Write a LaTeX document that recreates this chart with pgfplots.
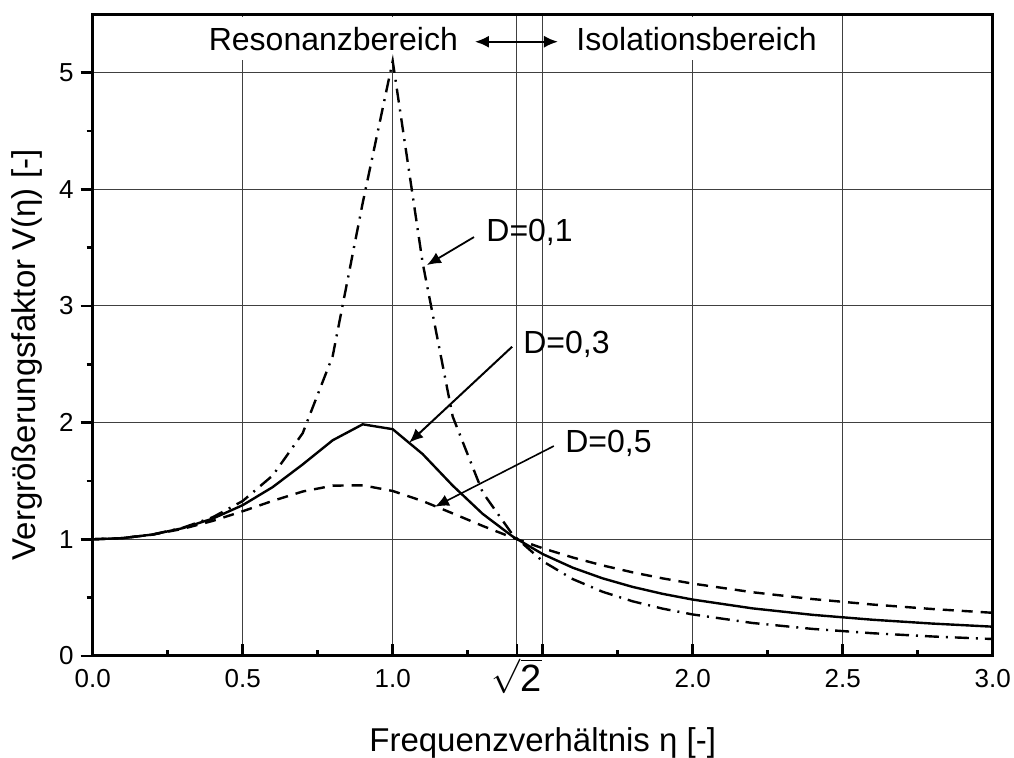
\documentclass[border=0pt]{standalone}
\usepackage{pgfplots}
\pgfplotsset{compat=1.18}
\usepackage{fontspec}
\setmainfont{Liberation Sans}
\usetikzlibrary{arrows.meta}

\begin{document}
\begin{tikzpicture}
\path[use as bounding box] (-46.35pt,-51pt) rectangle (460.65pt,328pt);
\begin{axis}[
  at={(0,0)}, anchor=south west,
  scale only axis, width=450pt, height=320.9pt,
  xmin=0, xmax=3, ymin=0, ymax=5.5,
  axis line style={line width=1.5pt},
  xtick={0,0.5,1,1.41421,1.5,2,2.5,3},
  xticklabels={0.0,0.5,1.0,{\raisebox{-1.6pt}[9.3pt][0pt]{\fontsize{19}{20}\selectfont$\sqrt{\mbox{2}}$}},,2.0,2.5,3.0},
  minor xtick={0.25,0.75,1.25,1.75,2.25,2.75},
  ytick={0,1,2,3,4,5},
  yticklabels={0,1,2,3,4,5},
  minor ytick={0.5,1.5,2.5,3.5,4.5},
  xtick pos=bottom, ytick pos=left,
  xtick align=inside, ytick align=outside,
  major tick length=6pt, minor tick length=3pt,
  tick style={line width=1.3pt, black},
  grid=major,
  major grid style={line width=0.5pt, black!75},
  tick label style={font=\fontsize{13}{15}\selectfont},
  xticklabel style={yshift=-3.2pt},
  xlabel={Frequenzverhältnis η [-]},
  xlabel style={at={(axis description cs:0.5,-0.1496)}, anchor=base, font=\fontsize{16.5}{19}\selectfont},
  ylabel={Vergrößerungsfaktor V(η) [-]},
  ylabel style={at={(axis description cs:-0.073,0.469)}, anchor=center, font=\fontsize{16.5}{19}\selectfont},
]
\node[fill=white, inner xsep=2pt, inner ysep=5pt, anchor=base east, font=\fontsize{16}{19}\selectfont] at (axis cs:1.232,5.193) {Resonanzbereich};
\node[fill=white, inner xsep=2pt, inner ysep=5pt, anchor=base west, font=\fontsize{16}{19}\selectfont] at (axis cs:1.598,5.193) {Isolationsbereich};

% D = 0.1
\addplot[black, line width=1.2pt, dash pattern=on 7pt off 3.5pt on 1pt off 3.5pt] coordinates {
(0,1) (0.1,1.0101) (0.2,1.0416) (0.3,1.0985) (0.4,1.1889) (0.5,1.3282) (0.6,1.5468) (0.7,1.9093) (0.8,2.5707) (0.9,3.8822) (1.0,5.0990) (1.1,3.3666) (1.2,2.0519) (1.3,1.4013) (1.4,1.0385) (1.5,0.8122) (1.6,0.6593) (1.7,0.5500) (1.8,0.4685) (1.9,0.4056) (2.0,0.3559) (2.2,0.2827) (2.4,0.2319) (2.6,0.1949) (2.8,0.1670) (3.0,0.1454)
};
% D = 0.3
\addplot[black, line width=1.2pt] coordinates {
(0,1) (0.1,1.0101) (0.2,1.0410) (0.3,1.0953) (0.4,1.1772) (0.5,1.2925) (0.6,1.4474) (0.7,1.6417) (0.8,1.8487) (0.9,1.9853) (1.0,1.9437) (1.1,1.7299) (1.2,1.4603) (1.3,1.2178) (1.4,1.0238) (1.5,0.8735) (1.6,0.7568) (1.7,0.6651) (1.8,0.5919) (1.9,0.5324) (2.0,0.4834) (2.2,0.4078) (2.4,0.3525) (2.6,0.3105) (2.8,0.2776) (3.0,0.2511)
};
% D = 0.5
\addplot[black, line width=1.2pt, dash pattern=on 5.5pt off 4pt] coordinates {
(0,1) (0.1,1.0100) (0.2,1.0400) (0.3,1.0896) (0.4,1.1576) (0.5,1.2403) (0.6,1.3293) (0.7,1.4094) (0.8,1.4598) (0.9,1.4626) (1.0,1.4142) (1.1,1.3275) (1.2,1.2221) (1.3,1.1144) (1.4,1.0135) (1.5,0.9233) (1.6,0.8443) (1.7,0.7759) (1.8,0.7166) (1.9,0.6651) (2.0,0.6202) (2.2,0.5461) (2.4,0.4877) (2.6,0.4408) (2.8,0.4023) (3.0,0.3701)
};

\draw[{Latex[length=7pt,width=6pt]}-{Latex[length=7pt,width=6pt]}, line width=1.1pt] (axis cs:1.274,5.264) -- (axis cs:1.551,5.264);

\node[anchor=base west, inner sep=0pt, font=\fontsize{16}{19}\selectfont] at (axis cs:1.311,3.548) {D=0,1};
\draw[-{Latex[length=7pt,width=6pt]}, line width=0.9pt] (axis cs:1.271,3.590) -- (axis cs:1.114,3.350);
\node[anchor=base west, inner sep=0pt, font=\fontsize{16}{19}\selectfont] at (axis cs:1.434,2.588) {D=0,3};
\draw[-{Latex[length=7pt,width=6pt]}, line width=1pt] (axis cs:1.398,2.650) -- (axis cs:1.055,1.828);
\node[anchor=base west, inner sep=0pt, font=\fontsize{16}{19}\selectfont] at (axis cs:1.574,1.740) {D=0,5};
\draw[-{Latex[length=7pt,width=6pt]}, line width=0.8pt] (axis cs:1.537,1.799) -- (axis cs:1.141,1.279);
\end{axis}
\end{tikzpicture}
\end{document}
